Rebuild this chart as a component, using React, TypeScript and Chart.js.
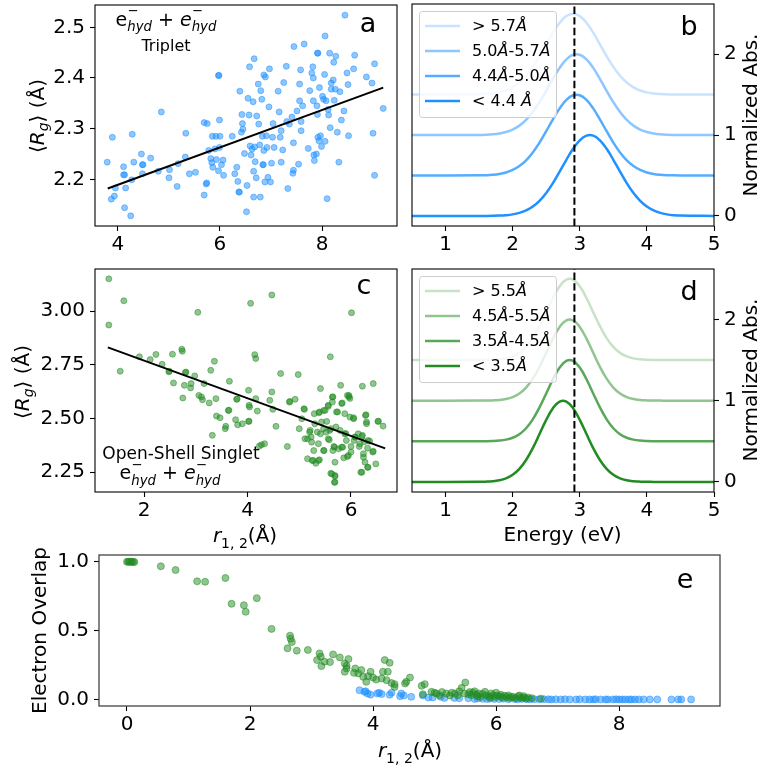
import React, { useEffect, useRef } from 'react';
import { Chart, registerables } from 'chart.js';
Chart.register(...registerables);

const FAMILY = '"DejaVu Sans", "Liberation Sans", sans-serif';

// ---------------- DATA ----------------
// Panel a: triplet  [r12 (Å), <Rg> (Å)]
const tripletPoints: [number, number][] = [
  [3.79, 2.234], [3.89, 2.283], [3.87, 2.161], [3.93, 2.167], [3.95, 2.183], [4.11, 2.225], [4.11, 2.209], [4.13, 2.209],
  [4.13, 2.144], [4.15, 2.183], [4.25, 2.128], [4.27, 2.199], [4.28, 2.289], [4.31, 2.234], [4.46, 2.25], [4.48, 2.229],
  [4.49, 2.229], [4.48, 2.211], [4.64, 2.242], [4.79, 2.216], [4.85, 2.333], [5.0, 2.203], [5.01, 2.219], [5.16, 2.186],
  [5.18, 2.231], [5.32, 2.244], [5.33, 2.291], [5.4, 2.211], [5.52, 2.214], [5.69, 2.312], [5.75, 2.31], [5.69, 2.169],
  [5.73, 2.191], [5.74, 2.193], [5.78, 2.257], [5.82, 2.241], [5.84, 2.233], [5.85, 2.285], [5.86, 2.224], [5.9, 2.26],
  [5.92, 2.285], [5.93, 2.239], [5.97, 2.405], [5.98, 2.405], [5.97, 2.217], [5.99, 2.317], [5.99, 2.263], [6.0, 2.285],
  [6.03, 2.229], [6.06, 2.238], [6.07, 2.208], [6.24, 2.285], [6.29, 2.211], [6.33, 2.224], [6.35, 2.196], [6.37, 2.175],
  [6.38, 2.175], [6.39, 2.374], [6.42, 2.293], [6.43, 2.328], [6.44, 2.31], [6.45, 2.299], [6.48, 2.251], [6.52, 2.136],
  [6.53, 2.188], [6.55, 2.36], [6.57, 2.327], [6.58, 2.422], [6.59, 2.266], [6.61, 2.248], [6.63, 2.26], [6.65, 2.353],
  [6.66, 2.216], [6.66, 2.165], [6.67, 2.438], [6.68, 2.264], [6.69, 2.235], [6.71, 2.203], [6.72, 2.325], [6.75, 2.388],
  [6.76, 2.309], [6.78, 2.268], [6.79, 2.165], [6.8, 2.375], [6.82, 2.358], [6.83, 2.285], [6.84, 2.229], [6.85, 2.229],
  [6.86, 2.406], [6.86, 2.257], [6.88, 2.195], [6.89, 2.402], [6.91, 2.286], [6.92, 2.263], [6.94, 2.204], [6.96, 2.343],
  [6.97, 2.418], [6.99, 2.195], [7.01, 2.232], [7.03, 2.283], [7.04, 2.31], [7.06, 2.263], [7.14, 2.374], [7.16, 2.333],
  [7.18, 2.283], [7.2, 2.296], [7.2, 2.234], [7.23, 2.258], [7.25, 2.391], [7.3, 2.423], [7.31, 2.314], [7.33, 2.182],
  [7.36, 2.309], [7.41, 2.323], [7.43, 2.212], [7.44, 2.272], [7.45, 2.462], [7.44, 2.218], [7.51, 2.335], [7.54, 2.23],
  [7.56, 2.355], [7.56, 2.388], [7.58, 2.416], [7.59, 2.314], [7.59, 2.296], [7.62, 2.345], [7.65, 2.467], [7.73, 2.261],
  [7.76, 2.375], [7.8, 2.41], [7.82, 2.422], [7.83, 2.4], [7.83, 2.355], [7.84, 2.248], [7.85, 2.237], [7.89, 2.25],
  [7.91, 2.449], [7.92, 2.449], [7.9, 2.345], [7.91, 2.328], [7.92, 2.283], [7.94, 2.276], [7.95, 2.381], [7.97, 2.286],
  [7.99, 2.265], [8.01, 2.364], [8.03, 2.358], [8.05, 2.407], [8.06, 2.483], [8.06, 2.275], [8.08, 2.355], [8.1, 2.162],
  [8.12, 2.338], [8.13, 2.327], [8.15, 2.449], [8.16, 2.302], [8.18, 2.378], [8.18, 2.39], [8.22, 2.396], [8.23, 2.431],
  [8.24, 2.356], [8.26, 2.378], [8.27, 2.443], [8.3, 2.293], [8.33, 2.234], [8.35, 2.373], [8.38, 2.317], [8.43, 2.335],
  [8.45, 2.524], [8.49, 2.41], [8.51, 2.387], [8.52, 2.286], [8.62, 2.418], [8.64, 2.445], [8.87, 2.402], [8.98, 2.39],
  [9.0, 2.291], [9.03, 2.428], [9.03, 2.208], [9.2, 2.34],
];
const tripletFitR12 = [3.8, 9.2];
const tripletFitRg = [2.182, 2.381];

// Panel c: open-shell singlet  [r12 (Å), <Rg> (Å)]
const singletPoints: [number, number][] = [
  [1.32, 3.15], [1.32, 2.935], [1.61, 3.048], [1.54, 2.72], [1.91, 2.787], [2.12, 2.774], [2.23, 2.798], [2.35, 2.752],
  [2.48, 2.717], [2.49, 2.72], [2.55, 2.799], [2.57, 2.665], [2.73, 2.822], [2.74, 2.813], [2.75, 2.595], [2.78, 2.654],
  [2.8, 2.713], [2.81, 2.716], [2.9, 2.642], [2.91, 2.662], [2.98, 2.698], [3.04, 2.994], [3.06, 2.607], [3.11, 2.6],
  [3.13, 2.587], [3.16, 2.662], [3.26, 2.572], [3.29, 2.724], [3.32, 2.421], [3.36, 2.766], [3.39, 2.592], [3.4, 2.511],
  [3.47, 2.503], [3.57, 2.452], [3.58, 2.463], [3.63, 2.537], [3.64, 2.538], [3.65, 2.673], [3.77, 2.494], [3.79, 2.589],
  [3.8, 2.59], [3.81, 2.47], [3.9, 2.475], [4.02, 2.486], [4.03, 2.487], [4.02, 2.631], [4.03, 2.561], [4.04, 2.553],
  [4.06, 3.036], [4.14, 2.797], [4.16, 2.779], [4.16, 2.592], [4.19, 2.534], [4.23, 2.371], [4.27, 2.377], [4.33, 2.382],
  [4.43, 2.584], [4.47, 2.623], [4.47, 3.075], [4.49, 2.542], [4.55, 2.463], [4.64, 2.709], [4.77, 2.369], [4.81, 2.576],
  [4.82, 2.579], [4.92, 2.589], [4.98, 2.704], [5.0, 2.452], [5.05, 2.498], [5.09, 2.545], [5.1, 2.542], [5.11, 2.405],
  [5.16, 2.312], [5.16, 2.405], [5.2, 2.436], [5.21, 2.444], [5.23, 2.413], [5.24, 2.389], [5.25, 2.304], [5.27, 2.304],
  [5.28, 2.35], [5.29, 2.522], [5.3, 2.475], [5.32, 2.291], [5.35, 2.436], [5.37, 2.304], [5.37, 2.382], [5.38, 2.526],
  [5.39, 2.53], [5.39, 2.307], [5.41, 2.639], [5.41, 2.428], [5.43, 2.483], [5.47, 2.35], [5.47, 2.537], [5.47, 2.452],
  [5.48, 2.35], [5.5, 2.537], [5.52, 2.436], [5.53, 2.486], [5.56, 2.556], [5.56, 2.561], [5.56, 2.405], [5.58, 2.4],
  [5.59, 2.444], [5.6, 2.787], [5.61, 2.452], [5.61, 2.244], [5.63, 2.241], [5.64, 2.576], [5.64, 2.6], [5.65, 2.6],
  [5.65, 2.35], [5.67, 2.369], [5.68, 2.366], [5.68, 2.202], [5.69, 2.234], [5.69, 2.203], [5.69, 2.296], [5.69, 2.23],
  [5.71, 2.46], [5.72, 2.53], [5.74, 2.53], [5.76, 2.358], [5.79, 2.444], [5.8, 2.654], [5.82, 2.569], [5.82, 2.366],
  [5.83, 2.572], [5.84, 2.366], [5.86, 2.316], [5.88, 2.428], [5.88, 2.522], [5.9, 2.429], [5.91, 2.397], [5.93, 2.607],
  [5.93, 2.322], [5.95, 2.327], [5.96, 2.6], [5.96, 2.607], [5.98, 2.506], [5.98, 2.593], [6.0, 2.343], [6.0, 2.369],
  [6.01, 2.992], [6.05, 2.498], [6.05, 2.503], [6.06, 2.397], [6.08, 2.413], [6.08, 2.413], [6.14, 2.428], [6.16, 2.369],
  [6.17, 2.382], [6.19, 2.249], [6.21, 2.416], [6.21, 2.249], [6.22, 2.421], [6.22, 2.65], [6.24, 2.335], [6.24, 2.319],
  [6.26, 2.391], [6.27, 2.296], [6.28, 2.514], [6.29, 2.517], [6.3, 2.475], [6.3, 2.483], [6.32, 2.361], [6.32, 2.272],
  [6.33, 2.272], [6.33, 2.397], [6.36, 2.394], [6.42, 2.343], [6.43, 2.662], [6.43, 2.347], [6.48, 2.288], [6.52, 2.486],
  [6.53, 2.487], [6.62, 2.464],
];
const singletFitR12 = [1.3, 6.66];
const singletFitRg = [2.831, 2.36];

// Panels b, d: normalized absorption spectra
const energyGrid = [0.5, 1.5, 1.6, 1.7, 1.8, 1.9, 2.0, 2.1, 2.2, 2.3, 2.4, 2.5, 2.6, 2.7, 2.8, 2.9, 3.0, 3.1, 3.2, 3.3, 3.4, 3.5, 3.6, 3.7, 3.8, 3.9, 4.0, 4.1, 4.2, 4.3, 4.4, 4.5, 5.0];
const absTripletGt57 = [0, .0029, .0066, .0138, .0273, .0511, .0899, .149, .2328, .3427, .4754, .6213, .7651, .8878, .9707, 1, .9707, .8878, .7651, .6213, .4754, .3427, .2328, .149, .0899, .0511, .0273, .0138, .0066, .0029, .0012, .0005, 0];
const absTriplet5057 = [0, .0019, .0044, .0096, .0196, .0377, .0683, .1166, .1877, .2846, .4066, .5475, .6946, .8303, .9353, .9926, .9926, .9353, .8303, .6946, .5475, .4066, .2846, .1877, .1166, .0683, .0377, .0196, .0096, .0044, .0019, .0008, 0];
const absTriplet4450 = [0, .0019, .0044, .0096, .0196, .0377, .0683, .1166, .1877, .2846, .4066, .5475, .6946, .8303, .9353, .9926, .9926, .9353, .8303, .6946, .5475, .4066, .2846, .1877, .1166, .0683, .0377, .0196, .0096, .0044, .0019, .0008, 0];
const absTripletLt44 = [0, .0003, .0008, .0019, .0044, .0096, .0196, .0377, .0683, .1166, .1877, .2846, .4066, .5475, .6946, .8303, .9353, .9926, .9926, .9353, .8303, .6946, .5475, .4066, .2846, .1877, .1166, .0683, .0377, .0196, .0096, .0044, 0];
const absSingletGt55 = [0, .0004, .0012, .0033, .0085, .0202, .0439, .0878, .1608, .2703, .4165, .5887, .7632, .9073, .9892, .9892, .9073, .7632, .5887, .4165, .2703, .1608, .0878, .0439, .0202, .0085, .0033, .0012, .0004, .0001, 0, 0, 0];
const absSinglet4555 = [0, .0004, .0012, .0033, .0085, .0202, .0439, .0878, .1608, .2703, .4165, .5887, .7632, .9073, .9892, .9892, .9073, .7632, .5887, .4165, .2703, .1608, .0878, .0439, .0202, .0085, .0033, .0012, .0004, .0001, 0, 0, 0];
const absSinglet3545 = [0, .0004, .0012, .0033, .0085, .0202, .0439, .0878, .1608, .2703, .4165, .5887, .7632, .9073, .9892, .9892, .9073, .7632, .5887, .4165, .2703, .1608, .0878, .0439, .0202, .0085, .0033, .0012, .0004, .0001, 0, 0, 0];
const absSingletLt35 = [0, .0012, .0033, .0085, .0202, .0439, .0878, .1608, .2703, .4165, .5887, .7632, .9073, .9892, .9892, .9073, .7632, .5887, .4165, .2703, .1608, .0878, .0439, .0202, .0085, .0033, .0012, .0004, .0001, 0, 0, 0, 0];
const spectrumOffsets = [1.5, 1.0, 0.5, 0];
const tripletBins = ['> 5.7Å', '5.0Å-5.7Å', '4.4Å-5.0Å', '< 4.4 Å'];
const singletBins = ['> 5.5Å', '4.5Å-5.5Å', '3.5Å-4.5Å', '< 3.5Å'];
const binAlphas = [0.25, 0.5, 0.75, 1];
const referenceEnergy = 2.92;

// Panel e: electron overlap vs r12
const overlapSinglet: [number, number][] = [
  [0.0, 1.0], [0.02, 1.0], [0.04, 1.0], [0.06, 0.999], [0.08, 1.0], [0.1, 0.999], [0.12, 0.998],
  [0.55, 0.967], [0.79, 0.94], [1.14, 0.858], [1.27, 0.855], [1.6, 0.882], [1.7, 0.695], [1.9, 0.685], [1.93, 0.637],
  [2.11, 0.736], [2.35, 0.513], [2.61, 0.372], [2.65, 0.464], [2.66, 0.442], [2.68, 0.418], [2.76, 0.355], [2.94, 0.36],
  [3.09, 0.287], [3.13, 0.335], [3.15, 0.311], [3.16, 0.243], [3.21, 0.275], [3.3, 0.272], [3.35, 0.328], [3.46, 0.306],
  [3.54, 0.262], [3.57, 0.226], [3.54, 0.202], [3.6, 0.294], [3.57, 0.245], [3.69, 0.194], [3.71, 0.226], [3.76, 0.19],
  [3.81, 0.214], [3.84, 0.165], [3.89, 0.129], [3.96, 0.202], [3.92, 0.17], [4.0, 0.16], [4.05, 0.145], [4.14, 0.153],
  [4.16, 0.202], [4.19, 0.287], [4.22, 0.141], [4.24, 0.202], [4.27, 0.267], [4.3, 0.12], [4.35, 0.112], [4.35, 0.092],
  [4.52, 0.117], [4.54, 0.129], [4.6, 0.16], [4.79, 0.1], [4.81, 0.039], [4.84, 0.112], [4.95, 0.056], [5.0, 0.05],
  [5.03, 0.044], [5.08, 0.032], [5.12, 0.055], [5.19, 0.044], [5.25, 0.03], [5.28, 0.05], [5.33, 0.044], [5.38, 0.032],
  [5.4, 0.06], [5.44, 0.085], [5.49, 0.044], [5.5, 0.124], [5.55, 0.039], [5.57, 0.055], [5.6, 0.032], [5.62, 0.05],
  [5.65, 0.06], [5.68, 0.036], [5.7, 0.025], [5.72, 0.045], [5.74, 0.019], [5.78, 0.04], [5.82, 0.056], [5.84, 0.032],
  [5.88, 0.025], [5.9, 0.015], [5.92, 0.045], [5.95, 0.032], [5.98, 0.019], [6.0, 0.05], [6.02, 0.03], [6.06, 0.024],
  [6.08, 0.035], [6.1, 0.015], [6.14, 0.028], [6.17, 0.019], [6.2, 0.03], [6.22, 0.012], [6.25, 0.02], [6.28, 0.019],
  [6.32, 0.01], [6.36, 0.024], [6.38, 0.03], [6.4, 0.012], [6.44, 0.015], [6.45, 0.025], [6.48, 0.008], [6.52, 0.015],
  [6.58, 0.01], [6.73, 0.007],
];
const overlapTriplet: [number, number][] = [
  [3.78, 0.068], [3.86, 0.056], [3.88, 0.06], [3.91, 0.044], [3.96, 0.036], [4.07, 0.044], [4.1, 0.05], [4.14, 0.04],
  [4.27, 0.035], [4.3, 0.05], [4.44, 0.025], [4.46, 0.044], [4.5, 0.03], [4.62, 0.02], [4.81, 0.03], [4.9, 0.015],
  [4.97, 0.016], [5.1, 0.02], [5.16, 0.012], [5.32, 0.012], [5.4, 0.01], [5.55, 0.01], [5.65, 0.005], [5.7, 0.008],
  [5.78, 0.006], [5.85, 0.004], [5.9, 0.007], [5.97, 0.005], [6.05, 0.004], [6.12, 0.006], [6.2, 0.003], [6.3, 0.004],
  [6.35, 0.002], [6.42, 0.005], [6.5, 0.003], [6.55, 0.002], [6.62, 0.003], [6.7, 0.002], [6.78, 0.003], [6.85, 0.002],
  [6.9, 0.001], [6.97, 0.002], [7.05, 0.001], [7.12, 0.002], [7.2, 0.001], [7.3, 0.001], [7.36, 0.002], [7.45, 0.001],
  [7.52, 0.001], [7.58, 0.001], [7.62, 0.002], [7.7, 0.001], [7.78, 0.001], [7.82, 0.001], [7.9, 0.001], [7.95, 0.002],
  [8.0, 0.001], [8.05, 0.001], [8.1, 0.001], [8.16, 0.001], [8.2, 0.001], [8.26, 0.001], [8.32, 0.001], [8.4, 0.001],
  [8.5, 0.001], [8.62, 0.001], [8.85, 0.001], [8.96, 0.001], [9.01, 0.001], [9.17, 0.001],
];

// Axis ticks
const ticksA_x = [4, 6, 8];
const ticksA_y = [2.2, 2.3, 2.4, 2.5];
const ticksC_x = [2, 4, 6];
const ticksC_y = [2.25, 2.5, 2.75, 3.0];
const ticksE_x = [0, 2, 4, 6, 8];
const ticksE_y = [0, 0.5, 1.0];
const ticksSpec_x = [1, 2, 3, 4, 5];
const ticksSpec_y = [0, 1, 2];

// ---------------- STYLE HELPERS ----------------
const BLUE = [30, 144, 255];
const GREEN = [34, 139, 34];
const rgba = (c: number[], a: number) => `rgba(${c[0]},${c[1]},${c[2]},${a})`;

type Seg = { t: string; it?: boolean; s?: number; dy?: number; na?: boolean };
type TextItem = { x: number; y: number; segs: Seg[]; size: number; align?: 'left' | 'center' | 'right'; rot?: number; baseline?: CanvasTextBaseline };

function drawRich(ctx: CanvasRenderingContext2D, item: TextItem) {
  const { x, y, segs, size, align = 'center', rot = 0, baseline = 'alphabetic' } = item;
  ctx.save();
  ctx.translate(x, y);
  if (rot) ctx.rotate(rot);
  ctx.textBaseline = baseline;
  ctx.textAlign = 'left';
  ctx.fillStyle = '#000';
  const fontOf = (sg: Seg) => `${sg.it ? 'italic ' : ''}${(size * (sg.s ?? 1)).toFixed(2)}px ${FAMILY}`;
  const adv: number[] = [];
  let total = 0;
  segs.forEach((sg) => {
    ctx.font = fontOf(sg);
    const w = ctx.measureText(sg.t).width;
    const a = sg.na ? 0 : w;
    adv.push(a);
    total += a;
  });
  let cx = align === 'left' ? 0 : align === 'right' ? -total : -total / 2;
  segs.forEach((sg, i) => {
    ctx.font = fontOf(sg);
    ctx.fillText(sg.t, cx, (sg.dy ?? 0) * size);
    cx += adv[i];
  });
  ctx.restore();
}

const plain = (t: string): Seg[] => [{ t }];
const angstromSegs = (label: string): Seg[] => {
  const parts = label.split('Å');
  const out: Seg[] = [];
  parts.forEach((p, i) => {
    if (p) out.push({ t: p });
    if (i < parts.length - 1) out.push({ t: 'Å', it: true });
  });
  return out;
};
const rgSegs: Seg[] = [{ t: '⟨' }, { t: 'R', it: true }, { t: 'g', it: true, s: 0.7, dy: 0.2 }, { t: '⟩' }, { t: ' (Å)' }];
const r12Segs: Seg[] = [{ t: 'r', it: true }, { t: '1, 2', s: 0.7, dy: 0.28 }, { t: '(Å)' }];
const eHydSegs: Seg[] = [
  { t: 'e' }, { t: '−', s: 0.7, dy: -0.54, na: true }, { t: 'hyd', it: true, s: 0.7, dy: 0.29 },
  { t: ' + ' },
  { t: 'e', it: true }, { t: '−', s: 0.7, dy: -0.54, na: true }, { t: 'hyd', it: true, s: 0.7, dy: 0.29 },
];

const decorPlugin = {
  id: 'decor',
  afterDatasetsDraw(chart: any, _args: any, opts: any) {
    const ctx: CanvasRenderingContext2D = chart.ctx;
    const ca = chart.chartArea;
    ctx.save();
    ctx.strokeStyle = opts.frameColor || '#000';
    ctx.lineWidth = opts.frameWidth || 1.1;
    ctx.strokeRect(ca.left, ca.top, ca.right - ca.left, ca.bottom - ca.top);
    ctx.restore();
    const lg = opts.legend;
    if (lg) {
      const bx = ca.left + lg.x, by = ca.top + lg.y;
      ctx.save();
      ctx.beginPath();
      (ctx as any).roundRect(bx + 0.5, by + 0.5, lg.w, lg.h, 3);
      ctx.fillStyle = 'rgba(255,255,255,0.8)';
      ctx.fill();
      ctx.strokeStyle = '#cccccc';
      ctx.lineWidth = 1;
      ctx.stroke();
      lg.items.forEach((it: any, i: number) => {
        const ry = ca.top + lg.rows[i];
        ctx.beginPath();
        ctx.moveTo(ca.left + lg.lineX0, ry);
        ctx.lineTo(ca.left + lg.lineX1, ry);
        ctx.strokeStyle = it.color;
        ctx.lineWidth = 2.5;
        ctx.stroke();
        drawRich(ctx, { x: ca.left + lg.textX, y: ry + 0.5, segs: it.segs, size: 16, align: 'left', baseline: 'middle' });
      });
      ctx.restore();
    }
  },
  afterDraw(chart: any, _args: any, opts: any) {
    const ctx: CanvasRenderingContext2D = chart.ctx;
    (opts.texts || []).forEach((t: TextItem) => drawRich(ctx, { ...t, x: t.x - opts.ox, y: t.y - opts.oy }));
  },
};

function axis(opts: {
  pos: 'left' | 'right' | 'bottom'; min: number; max: number; ticks: number[]; size: number; dec: number; pad: number;
}) {
  const horizontal = opts.pos === 'bottom';
  return {
    type: 'linear',
    position: opts.pos,
    min: opts.min,
    max: opts.max,
    afterBuildTicks: (ax: any) => { ax.ticks = opts.ticks.map((v) => ({ value: v })); },
    afterFit: (ax: any) => {
      if (horizontal) ax.height = opts.size; else ax.width = opts.size;
      ax.paddingTop = 0; ax.paddingBottom = 0; ax.paddingLeft = 0; ax.paddingRight = 0;
    },
    grid: { display: true, drawOnChartArea: false, drawTicks: true, tickLength: 5, tickWidth: 1.1, tickColor: '#000', color: '#000' },
    border: { display: false },
    title: { display: false },
    ticks: {
      autoSkip: false, maxRotation: 0, minRotation: 0, padding: opts.pad, color: '#000',
      font: { family: FAMILY, size: 20 },
      callback: (v: number) => Number(v).toFixed(opts.dec),
    },
  };
}

function ChartBox({ left, top, width, height, make }: { left: number; top: number; width: number; height: number; make: () => any }) {
  const ref = useRef<HTMLCanvasElement>(null);
  useEffect(() => {
    const chart = new Chart(ref.current as HTMLCanvasElement, make());
    return () => chart.destroy();
  }, []);
  return <canvas ref={ref} width={width} height={height} style={{ position: 'absolute', left, top, width, height }} />;
}

const baseOptions = (pad: any, scales: any, decor: any) => ({
  animation: false,
  responsive: false,
  devicePixelRatio: 1,
  events: [],
  layout: { padding: pad },
  plugins: { legend: { display: false }, tooltip: { enabled: false }, decor },
  scales,
});

const pts = (arr: [number, number][]) => arr.map(([x, y]) => ({ x, y }));
const zip = (xs: number[], ys: number[], off = 0) => xs.map((x, i) => ({ x, y: ys[i] + off }));

// ---------------- PANELS ----------------
const makeA = () => ({
  type: 'scatter',
  data: {
    datasets: [
      { data: zip(tripletFitR12, tripletFitRg), showLine: true, borderColor: '#000', borderWidth: 2, pointRadius: 0 },
      { data: pts(tripletPoints), backgroundColor: rgba(BLUE, 0.5), borderColor: rgba(BLUE, 0.5), borderWidth: 1, pointRadius: 3 },
    ],
  },
  options: baseOptions({ top: 3, right: 8, left: 0, bottom: 0 }, {
    x: axis({ pos: 'bottom', min: 3.55, max: 9.47, ticks: ticksA_x, size: 36, dec: 0, pad: 2 }),
    y: axis({ pos: 'left', min: 2.108, max: 2.544, ticks: ticksA_y, size: 95, dec: 1, pad: 5 }),
  }, {
    ox: 0, oy: 0,
    texts: [
      { x: 44, y: 116, segs: rgSegs, size: 20, rot: -Math.PI / 2 },
      { x: 368, y: 32, segs: plain('a'), size: 27 },
      { x: 166, y: 25.5, segs: eHydSegs, size: 19 },
      { x: 166, y: 50.5, segs: plain('Triplet'), size: 16 },
    ],
  }),
  plugins: [decorPlugin],
});

const makeC = () => ({
  type: 'scatter',
  data: {
    datasets: [
      { data: zip(singletFitR12, singletFitRg), showLine: true, borderColor: '#000', borderWidth: 2, pointRadius: 0 },
      { data: pts(singletPoints), backgroundColor: rgba(GREEN, 0.5), borderColor: rgba(GREEN, 0.5), borderWidth: 1, pointRadius: 3 },
    ],
  },
  options: baseOptions({ top: 7, right: 8, left: 0, bottom: 0 }, {
    x: axis({ pos: 'bottom', min: 1.053, max: 6.889, ticks: ticksC_x, size: 68, dec: 0, pad: 2 }),
    y: axis({ pos: 'left', min: 2.157, max: 3.196, ticks: ticksC_y, size: 95, dec: 2, pad: 5 }),
  }, {
    ox: 0, oy: 262,
    texts: [
      { x: 29, y: 382, segs: rgSegs, size: 20, rot: -Math.PI / 2 },
      { x: 364, y: 294, segs: plain('c'), size: 27 },
      { x: 181, y: 459, segs: plain('Open-Shell Singlet'), size: 17 },
      { x: 170, y: 479, segs: eHydSegs, size: 19 },
      { x: 245, y: 542, segs: r12Segs, size: 20 },
    ],
  }),
  plugins: [decorPlugin],
});

const makeSpectrum = (curves: number[][], bins: string[], color: number[], letter: string, oy: number, yTop: number, withXTitle: boolean) => {
  const items = bins.map((b, i) => ({ segs: angstromSegs(b), color: rgba(color, binAlphas[i]) }));
  const yMin = -0.124, yMax = 2.62;
  return {
    type: 'scatter',
    data: {
      datasets: [
        { data: [{ x: referenceEnergy, y: yMin }, { x: referenceEnergy, y: yMax }], showLine: true, borderColor: '#000', borderWidth: 2, borderDash: [7.4, 3.2], pointRadius: 0 },
        ...curves.map((c, i) => ({
          data: zip(energyGrid, c, spectrumOffsets[i]),
          showLine: true, borderColor: items[i].color, borderWidth: 2.5, pointRadius: 0, tension: 0.4,
        })),
      ],
    },
    options: baseOptions({ top: yTop, right: 0, left: 7, bottom: 0 }, {
      x: axis({ pos: 'bottom', min: 0.5, max: 5, ticks: ticksSpec_x, size: withXTitle ? 68 : 36, dec: 0, pad: 2 }),
      y: axis({ pos: 'right', min: yMin, max: yMax, ticks: ticksSpec_y, size: 47, dec: 0, pad: 5 }),
    }, {
      ox: 405, oy,
      legend: { x: 7, y: 7, w: 137, h: 106, rows: [22, 47, 72, 97], lineX0: 13, lineX1: 48, textX: 60, items },
      texts: [
        { x: 757, y: oy + yTop + 111, segs: plain('Normalized Abs.'), size: 20, rot: -Math.PI / 2 },
        { x: 689, y: oy + yTop + 31, segs: plain(letter), size: 27 },
        ...(withXTitle ? [{ x: 562.5, y: 541, segs: plain('Energy (eV)'), size: 20 }] : []),
      ],
    }),
    plugins: [decorPlugin],
  };
};

const makeE = () => ({
  type: 'scatter',
  data: {
    datasets: [
      { data: pts(overlapSinglet), backgroundColor: rgba(GREEN, 0.5), borderColor: rgba(GREEN, 0.5), borderWidth: 1, pointRadius: 3.5 },
      { data: pts(overlapTriplet), backgroundColor: rgba(BLUE, 0.5), borderColor: rgba(BLUE, 0.5), borderWidth: 1, pointRadius: 3.5 },
    ],
  },
  options: baseOptions({ top: 10, right: 41, left: 0, bottom: 0 }, {
    x: axis({ pos: 'bottom', min: -0.455, max: 9.64, ticks: ticksE_x, size: 63, dec: 0, pad: 2 }),
    y: axis({ pos: 'left', min: -0.0465, max: 1.049, ticks: ticksE_y, size: 99, dec: 1, pad: 5 }),
  }, {
    ox: 0, oy: 545, frameColor: '#444', frameWidth: 1.3,
    texts: [
      { x: 46, y: 630.5, segs: plain('Electron Overlap'), size: 20, rot: -Math.PI / 2 },
      { x: 685, y: 588, segs: plain('e'), size: 27 },
      { x: 410, y: 757, segs: r12Segs, size: 20 },
    ],
  }),
  plugins: [decorPlugin],
});

export default function App() {
  return (
    <div style={{ position: 'absolute', left: 0, top: 0, width: 761, height: 769, background: '#fff', overflow: 'hidden' }}>
      <ChartBox left={0} top={0} width={405} height={262} make={makeA} />
      <ChartBox left={405} top={0} width={356} height={262}
        make={() => makeSpectrum([absTripletGt57, absTriplet5057, absTriplet4450, absTripletLt44], tripletBins, BLUE, 'b', 0, 4, false)} />
      <ChartBox left={0} top={262} width={405} height={298} make={makeC} />
      <ChartBox left={405} top={262} width={356} height={298}
        make={() => makeSpectrum([absSingletGt55, absSinglet4555, absSinglet3545, absSingletLt35], singletBins, GREEN, 'd', 262, 7, true)} />
      <ChartBox left={0} top={545} width={761} height={224} make={makeE} />
    </div>
  );
}
